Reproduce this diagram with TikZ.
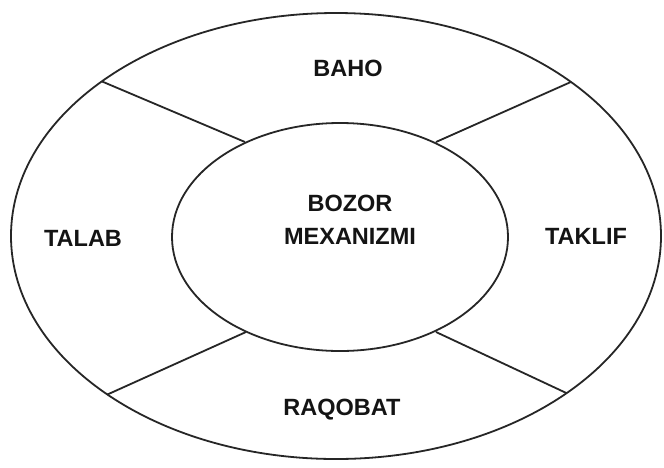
\documentclass[tikz,border=0pt]{standalone}
\usepackage{fontspec}
\setmainfont{Liberation Sans}
\usetikzlibrary{shapes.geometric}
\begin{document}
\begin{tikzpicture}[x=1pt,y=-1pt,
  ring/.style={draw=black!85, line width=1.8pt, ellipse, inner sep=0pt},
  spoke/.style={draw=black!85, line width=1.8pt},
  lbl/.style={font=\fontsize{23.5}{33}\selectfont\bfseries, text=black!92, align=center, inner sep=0pt}]
\useasboundingbox (0,0) rectangle (664,467);
\fill[white] (0,0) rectangle (664,467);
% ellipses
\coordinate (oc) at (336,236);
\coordinate (ic) at (340,237);
\node[ring, minimum width=650pt, minimum height=446pt] (outer) at (oc) {};
\node[ring, minimum width=336pt, minimum height=228pt] (inner) at (ic) {};
% spoke end points
\coordinate (o1) at ([shift={(-136.1:325 and 223)}]oc);
\coordinate (o2) at ([shift={(-43.7:325 and 223)}]oc);
\coordinate (o3) at ([shift={(134.7:325 and 223)}]oc);
\coordinate (o4) at ([shift={(44.8:325 and 223)}]oc);
\coordinate (i1) at (245,142);
\coordinate (i2) at (436,142);
\coordinate (i3) at (246,332);
\coordinate (i4) at (436,332);
\draw[spoke] (o1) -- (i1);
\draw[spoke] (o2) -- (i2);
\draw[spoke] (o3) -- (i3);
\draw[spoke] (o4) -- (i4);
% labels
\node[lbl] (baho) at (348,68) {BAHO};
\node[lbl] (talab) at (83,238) {TALAB};
\node[lbl] (taklif) at (586,236) {TAKLIF};
\node[lbl] (raqobat) at (342,410) {RAQOBAT};
\node[lbl] (bozor) at (350,220) {BOZOR\\MEXANIZMI};
\end{tikzpicture}
\end{document}
